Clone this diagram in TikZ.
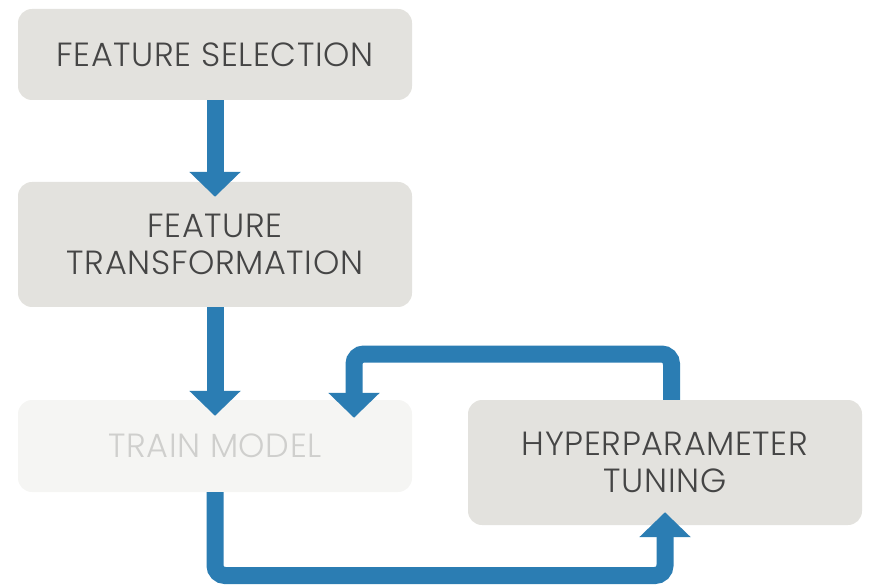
\documentclass[tikz,border=0pt]{standalone}
\usepackage{fontspec}
\setmainfont{Poppins Light}[LetterSpace=1.8]
\usetikzlibrary{arrows.meta}
\definecolor{boxgray}{HTML}{E3E2DE}
\definecolor{fadegray}{HTML}{F5F5F3}
\definecolor{fadetext}{HTML}{CFCFCD}
\definecolor{textgray}{HTML}{454545}
\definecolor{flowblue}{HTML}{2B7DB3}
\tikzset{
  box/.style={rectangle, rounded corners=14pt, fill=boxgray, text=textgray,
    minimum width=394pt, inner sep=0pt, align=center,
    font=\fontsize{33.5}{37}\selectfont},
  faded/.style={box, fill=fadegray, text=fadetext},
  flow/.style={draw=flowblue, line width=17pt, rounded corners=10pt,
    -{Triangle[width=50pt,length=25pt]}},
}
\begin{document}
\begin{tikzpicture}[x=1pt,y=1pt]
  \useasboundingbox (0,0) rectangle (869,584);
  \node[box,   minimum height=91pt]  (fs) at (215,529.5) {FEATURE SELECTION};
  \node[box,   minimum height=125pt] (ft) at (215,339.5) {FEATURE\\TRANSFORMATION};
  \node[faded, minimum height=92pt]  (tm) at (215,138)   {TRAIN MODEL};
  \node[box,   minimum height=125pt] (ht) at (665,121.5) {HYPERPARAMETER\\TUNING};
  \coordinate (low)  at (665,8.5);
  \coordinate (high) at (354,230);
  \draw[flow, shorten >=-15pt] (fs) -- (ft);
  \draw[flow, shorten >=-16pt] (ft) -- (tm);
  \draw[flow, shorten >=-13pt] (tm.south) |- (low) -- (ht.south);
  \draw[flow, shorten >=-18pt] ([xshift=6.5pt]ht.north) |- (high) -- (high |- tm.north);
\end{tikzpicture}
\end{document}
